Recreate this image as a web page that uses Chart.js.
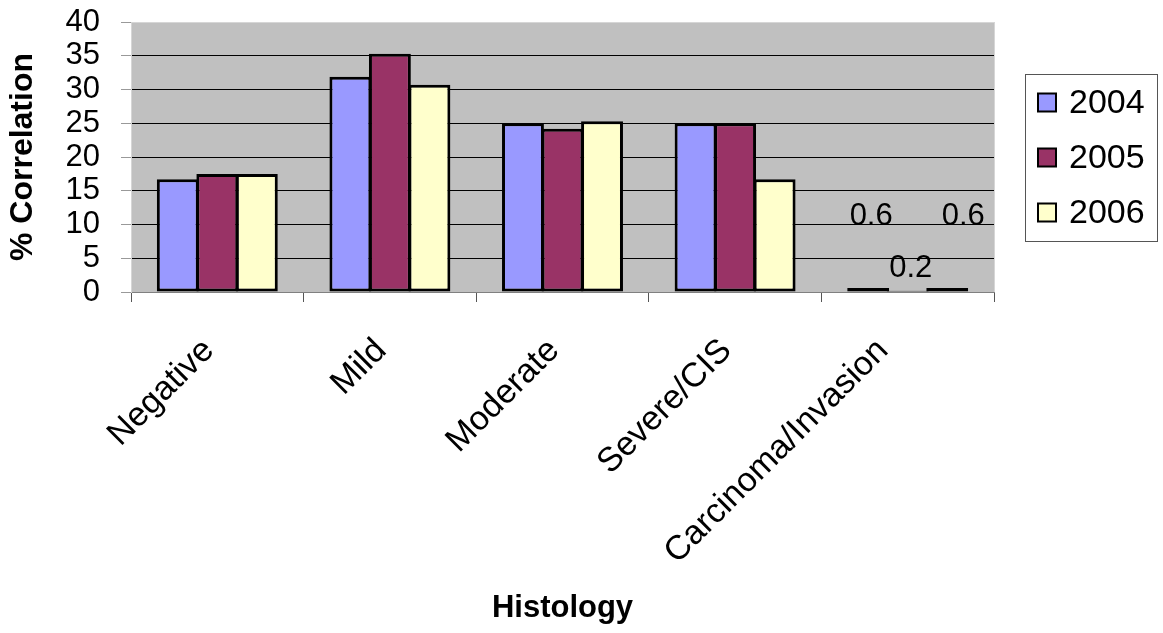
<!DOCTYPE html>
<html>
<head>
<meta charset="utf-8">
<script src="https://cdn.jsdelivr.net/npm/chart.js@4.4.0/dist/chart.umd.min.js"></script>
<style>
  html, body { margin: 0; padding: 0; background: #ffffff; }
  #wrap { width: 1163px; height: 633px; }
</style>
</head>
<body>
<div id="wrap"><canvas id="chart" width="1163" height="633"></canvas></div>
<script>
// Histology categories and yearly correlation percentages
const categories = ['Negative', 'Mild', 'Moderate', 'Severe/CIS', 'Carcinoma/Invasion'];
const years = ['2004', '2005', '2006'];
const values2004 = [16.7, 31.9, 25.0, 25.0, 0.6];
const values2005 = [17.5, 35.3, 24.2, 25.0, 0.2];
const values2006 = [17.5, 30.7, 25.3, 16.7, 0.6];
const yTickValues = [0, 5, 10, 15, 20, 25, 30, 35, 40];
const labelledCategory = 'Carcinoma/Invasion';

const FONT = "'Liberation Sans', Arial, Helvetica, sans-serif";
const fills = ['#9999FF', '#993366', '#FFFFCC'];

// Grey plot area with a light frame on its right edge
const plotBackground = {
  id: 'plotBackground',
  beforeDraw(chart) {
    const { ctx, chartArea: a } = chart;
    ctx.save();
    ctx.fillStyle = '#C0C0C0';
    ctx.fillRect(a.left, a.top, a.right - a.left, a.bottom - a.top);
    ctx.strokeStyle = '#D6D6D6';
    ctx.lineWidth = 1;
    ctx.beginPath();
    ctx.moveTo(Math.round(a.right) + 0.5, a.top);
    ctx.lineTo(Math.round(a.right) + 0.5, a.bottom);
    ctx.stroke();
    ctx.restore();
  }
};

// Category names, rotated 45 degrees under the axis; long names sit a little further left
const slantedLabels = {
  id: 'slantedLabels',
  afterDraw(chart) {
    const { ctx } = chart;
    const x = chart.scales.x;
    ctx.save();
    ctx.fillStyle = '#000';
    ctx.font = '34px ' + FONT;
    ctx.textAlign = 'right';
    ctx.textBaseline = 'alphabetic';
    categories.forEach((c, i) => {
      const px = x.getPixelForValue(i);
      const nudge = c.length > 12 ? -18 : -2;
      ctx.save();
      ctx.translate(px + nudge, x.top + 60);
      ctx.rotate(-Math.PI / 4);
      ctx.fillText(c, 0, 0);
      ctx.restore();
    });
    ctx.restore();
  }
};

// Value labels on the carcinoma bars
const valueLabels = {
  id: 'valueLabels',
  afterDatasetsDraw(chart) {
    const { ctx } = chart;
    const idx = categories.indexOf(labelledCategory);
    const lift = [71, 22, 71];
    const shift = [3, 3, 16];
    ctx.save();
    ctx.fillStyle = '#000';
    ctx.font = '31px ' + FONT;
    ctx.textAlign = 'center';
    ctx.textBaseline = 'middle';
    chart.data.datasets.forEach((ds, d) => {
      const bar = chart.getDatasetMeta(d).data[idx];
      ctx.fillText(String(ds.data[idx]), bar.x + shift[d], bar.y - lift[d]);
    });
    ctx.restore();
  }
};

// Boxed legend to the right of the plot
const boxedLegend = {
  id: 'boxedLegend',
  afterDraw(chart) {
    const { ctx, chartArea: a } = chart;
    const left = a.right + 31, width = 132, height = 167;
    const top = (a.top + a.bottom) / 2 - height / 2;
    ctx.save();
    ctx.fillStyle = '#fff';
    ctx.fillRect(left, top, width, height);
    ctx.strokeStyle = '#555';
    ctx.lineWidth = 1;
    ctx.strokeRect(Math.round(left) + 0.5, Math.round(top) + 0.5, width, height);
    ctx.font = '34px ' + FONT;
    ctx.textBaseline = 'middle';
    ctx.textAlign = 'left';
    chart.data.datasets.forEach((ds, i) => {
      const cy = top + 29 + i * 55;
      ctx.fillStyle = ds.backgroundColor;
      ctx.fillRect(left + 13, cy - 9, 18, 18);
      ctx.strokeStyle = '#000';
      ctx.lineWidth = 2;
      ctx.strokeRect(left + 13, cy - 9, 18, 18);
      ctx.fillStyle = '#000';
      ctx.fillText(ds.label, left + 44, cy + 1);
    });
    ctx.restore();
  }
};

const datasets = [values2004, values2005, values2006].map((vals, i) => ({
  label: years[i],
  data: vals,
  backgroundColor: fills[i],
  borderColor: '#000',
  borderWidth: 3,
  borderSkipped: false,
  categoryPercentage: 0.687,
  barPercentage: 1.06
}));

new Chart(document.getElementById('chart'), {
  type: 'bar',
  data: { labels: categories, datasets },
  options: {
    responsive: false,
    animation: false,
    devicePixelRatio: 1,
    layout: { padding: { top: 22, right: 169, left: 0, bottom: 0 } },
    plugins: {
      legend: { display: false },
      tooltip: { enabled: false }
    },
    scales: {
      x: {
        grid: {
          display: true,
          drawOnChartArea: false,
          drawTicks: true,
          tickLength: 10,
          tickColor: '#555',
          offset: true
        },
        border: { display: true, color: '#808080', width: 1 },
        ticks: { display: false },
        title: {
          display: true,
          text: 'Histology',
          color: '#000',
          font: { family: FONT, size: 31, weight: 'bold' },
          padding: { top: 0, bottom: 6 }
        },
        afterFit(scale) {
          scale.height = 341;
          scale.paddingLeft = 0;
          scale.paddingRight = 0;
        }
      },
      y: {
        min: 0,
        max: 40,
        afterBuildTicks(scale) { scale.ticks = yTickValues.map(v => ({ value: v })); },
        grid: {
          color: ctx => ctx.tick && ctx.tick.value === 40 ? '#D6D6D6' : (ctx.tick && ctx.tick.value === 0 ? 'rgba(0,0,0,0)' : '#000'),
          tickColor: '#999',
          tickLength: 10,
          lineWidth: 1
        },
        border: { display: true, color: '#D6D6D6', width: 1 },
        ticks: {
          color: '#000',
          font: { family: FONT, size: 31 },
          padding: 21,
          autoSkip: false
        },
        title: {
          display: true,
          text: '% Correlation',
          color: '#000',
          font: { family: FONT, size: 32, weight: 'bold' },
          padding: { top: 4, bottom: 0 }
        },
        afterFit(scale) {
          scale.width = 131;
          scale.paddingTop = 0;
          scale.paddingBottom = 0;
        }
      }
    }
  },
  plugins: [plotBackground, valueLabels, slantedLabels, boxedLegend]
});
</script>
</body>
</html>
